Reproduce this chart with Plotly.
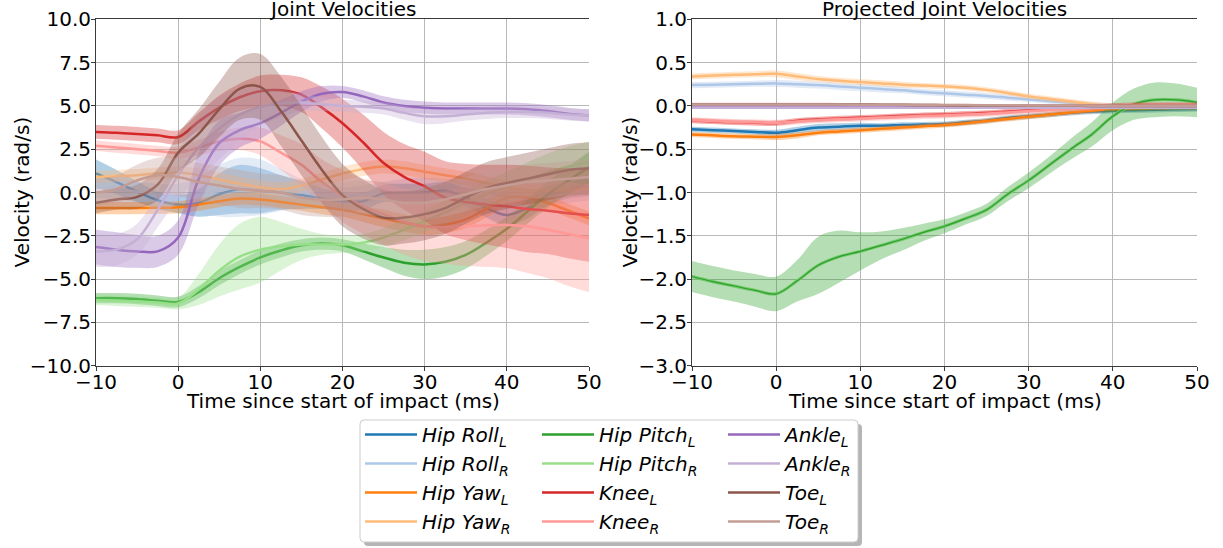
import plotly.graph_objects as go

W, H = 1223, 548

# sample times (ms since start of impact)
time_ms = [-10.0, -7.5, -5.0, -2.5, 0.0, 2.5, 5.0, 7.5, 10.0, 12.5, 15.0, 17.5, 20.0,
           22.5, 25.0, 27.5, 30.0, 32.5, 35.0, 37.5, 40.0, 42.5, 45.0, 47.5, 50.0]

# ---- joint velocities: mean and spread (rad/s) ----
hip_roll_l = [1.1, 0.6, 0.05, -0.45, -0.7, -0.6, -0.1, 0.2, 0.1, 0.0, -0.15, -0.35, -0.5,
              -0.5, -0.05, 0.0, 0.0, 0.1, -0.3, -0.9, -1.3, -0.9, -0.2, 0.15, 0.3]
hip_roll_l_sd = [0.8, 0.7, 0.6, 0.5, 0.5, 0.8, 1.2, 1.4, 1.3, 1.0, 0.8, 0.6, 0.5,
                 0.5, 0.5, 0.5, 0.5, 0.5, 0.5, 0.55, 0.6, 0.6, 0.55, 0.5, 0.5]
hip_roll_r = [0.3, 0.2, 0.05, -0.1, -0.2, -0.1, 0.1, 0.3, 0.3, 0.15, 0.0, -0.1, -0.2,
              -0.1, 0.1, 0.3, 0.35, 0.3, 0.2, 0.0, -0.2, -0.3, -0.25, -0.1, 0.05]
hip_roll_r_sd = [0.6, 0.6, 0.6, 0.6, 0.7, 1.0, 1.5, 1.7, 1.6, 1.2, 0.8, 0.6, 0.5,
                 0.5, 0.5, 0.5, 0.5, 0.5, 0.5, 0.5, 0.5, 0.5, 0.5, 0.5, 0.5]
hip_yaw_l = [-0.9, -0.9, -0.9, -0.88, -0.85, -0.7, -0.5, -0.35, -0.4, -0.55, -0.7, -0.85, -1.0,
             -1.25, -1.5, -1.75, -1.95, -1.85, -1.55, -0.95, -0.3, -0.3, -0.6, -1.05, -1.5]
hip_yaw_l_sd = [0.35, 0.35, 0.35, 0.35, 0.35, 0.35, 0.35, 0.35, 0.35, 0.35, 0.35, 0.4, 0.4,
                0.45, 0.5, 0.5, 0.5, 0.5, 0.5, 0.5, 0.45, 0.4, 0.4, 0.4, 0.4]
hip_yaw_r = [0.9, 0.95, 1.0, 1.1, 1.15, 1.0, 0.75, 0.5, 0.3, 0.2, 0.4, 0.75, 1.1,
             1.35, 1.5, 1.4, 1.2, 1.0, 0.8, 0.55, 0.3, 0.15, 0.1, 0.15, 0.25]
hip_yaw_r_sd = [0.35, 0.35, 0.35, 0.35, 0.35, 0.4, 0.4, 0.4, 0.4, 0.4, 0.4, 0.4, 0.4,
                0.4, 0.4, 0.4, 0.4, 0.4, 0.4, 0.4, 0.4, 0.4, 0.4, 0.4, 0.4]
hip_pitch_l = [-6.1, -6.1, -6.15, -6.25, -6.32, -5.75, -4.95, -4.3, -3.75, -3.35, -3.05, -2.95, -3.05,
               -3.4, -3.75, -4.05, -4.15, -4.0, -3.6, -2.9, -2.1, -1.1, -0.1, 0.7, 1.45]
hip_pitch_l_sd = [0.3, 0.3, 0.3, 0.3, 0.3, 0.35, 0.4, 0.4, 0.4, 0.4, 0.35, 0.35, 0.35,
                  0.45, 0.6, 0.75, 0.85, 0.85, 0.8, 0.75, 0.7, 0.7, 0.75, 0.8, 0.9]
hip_pitch_r = [-6.2, -6.25, -6.3, -6.35, -6.4, -5.6, -4.5, -3.7, -3.3, -3.1, -3.0, -3.0, -3.0,
               -2.9, -2.6, -2.15, -1.65, -1.15, -0.6, -0.1, 0.3, 0.75, 1.15, 1.5, 1.75]
hip_pitch_r_sd = [0.3, 0.3, 0.3, 0.3, 0.35, 0.9, 1.5, 1.9, 1.9, 1.4, 0.9, 0.6, 0.5,
                  0.5, 0.55, 0.6, 0.65, 0.7, 0.75, 0.8, 0.9, 1.0, 1.1, 1.15, 1.2]
knee_l = [3.5, 3.45, 3.38, 3.3, 3.2, 4.1, 4.9, 5.5, 5.85, 5.9, 5.65, 4.9, 4.0,
          2.9, 1.7, 0.9, 0.35, -0.3, -0.55, -0.7, -0.8, -0.95, -1.05, -1.2, -1.3]
knee_l_sd = [0.4, 0.4, 0.4, 0.4, 0.4, 0.5, 0.7, 0.8, 0.9, 0.9, 1.0, 1.2, 1.4,
             1.6, 1.8, 1.9, 2.0, 2.1, 2.2, 2.3, 2.4, 2.5, 2.5, 2.6, 2.7]
knee_r = [2.7, 2.6, 2.5, 2.4, 2.3, 2.6, 2.95, 3.1, 2.95, 2.3, 1.6, 0.6, -0.2,
          -0.8, -1.25, -1.7, -1.95, -2.0, -1.95, -1.9, -1.87, -1.95, -2.15, -2.4, -2.65]
knee_r_sd = [0.3, 0.3, 0.3, 0.3, 0.35, 0.45, 0.55, 0.65, 0.8, 1.0, 1.2, 1.3, 1.5,
             1.6, 1.8, 1.9, 2.0, 2.1, 2.3, 2.4, 2.5, 2.7, 2.8, 3.0, 3.1]
ankle_l = [-3.15, -3.3, -3.4, -3.4, -2.6, 0.8, 2.85, 3.6, 4.0, 4.6, 5.25, 5.7, 5.8,
           5.55, 5.2, 5.0, 4.9, 4.85, 4.85, 4.85, 4.85, 4.8, 4.7, 4.55, 4.45]
ankle_l_sd = [1.0, 1.0, 0.95, 0.9, 1.0, 1.5, 1.3, 1.0, 0.9, 0.75, 0.6, 0.45, 0.35,
              0.35, 0.35, 0.35, 0.35, 0.35, 0.35, 0.35, 0.35, 0.35, 0.35, 0.35, 0.35]
ankle_r = [-3.4, -3.3, -2.7, -1.0, 1.0, 2.6, 3.7, 4.5, 4.95, 5.15, 5.2, 5.1, 5.0,
           4.95, 4.85, 4.6, 4.4, 4.4, 4.5, 4.6, 4.65, 4.65, 4.6, 4.5, 4.45]
ankle_r_sd = [0.9, 0.9, 0.9, 1.0, 1.4, 1.8, 1.8, 1.5, 1.1, 0.8, 0.5, 0.4, 0.35,
              0.35, 0.35, 0.4, 0.45, 0.4, 0.35, 0.35, 0.35, 0.35, 0.35, 0.35, 0.35]
toe_l = [-0.6, -0.4, -0.25, 0.45, 2.3, 3.4, 4.8, 6.0, 6.1, 4.7, 3.0, 1.3, -0.15,
         -0.95, -1.45, -1.45, -1.25, -0.9, -0.3, 0.25, 0.55, 0.8, 1.05, 1.3, 1.4]
toe_l_sd = [0.6, 0.6, 0.7, 0.9, 1.1, 1.4, 1.6, 1.8, 1.9, 2.0, 2.0, 1.9, 1.8,
            1.7, 1.6, 1.5, 1.5, 1.5, 1.5, 1.5, 1.5, 1.5, 1.5, 1.5, 1.5]
toe_r = [0.0, 0.2, 0.7, 1.0, 0.9, 0.6, 0.4, 0.2, 0.1, 0.0, -0.3, -0.4, -0.4,
         -0.3, -0.4, -0.6, -0.6, -0.4, -0.1, 0.2, 0.4, 0.6, 0.7, 0.8, 0.9]
toe_r_sd = [0.8, 0.8, 0.9, 1.0, 1.1, 1.1, 1.1, 1.1, 1.0, 1.0, 1.0, 1.0, 1.0,
            1.0, 1.0, 1.0, 1.0, 1.0, 1.0, 1.0, 1.0, 1.0, 1.0, 1.0, 1.0]

# ---- projected joint velocities: mean and spread (rad/s) ----
p_hip_roll_l = [-0.27, -0.28, -0.29, -0.3, -0.31, -0.28, -0.25, -0.24, -0.23, -0.23, -0.22, -0.215, -0.21,
                -0.19, -0.17, -0.14, -0.12, -0.1, -0.08, -0.065, -0.055, -0.05, -0.045, -0.04, -0.035]
p_hip_roll_l_sd = [0.03, 0.03, 0.03, 0.03, 0.035, 0.04, 0.04, 0.04, 0.035, 0.03, 0.03, 0.03, 0.03,
                   0.03, 0.03, 0.03, 0.03, 0.03, 0.03, 0.03, 0.03, 0.03, 0.03, 0.03, 0.03]
p_hip_roll_r = [0.24, 0.245, 0.25, 0.255, 0.26, 0.25, 0.24, 0.225, 0.21, 0.195, 0.18, 0.16, 0.145,
                0.13, 0.115, 0.095, 0.075, 0.055, 0.035, 0.015, 0.0, -0.01, -0.015, -0.02, -0.02]
p_hip_roll_r_sd = [0.035, 0.035, 0.035, 0.035, 0.04, 0.04, 0.04, 0.04, 0.04, 0.04, 0.035, 0.035, 0.035,
                   0.035, 0.035, 0.035, 0.03, 0.03, 0.03, 0.03, 0.03, 0.03, 0.03, 0.03, 0.03]
p_hip_yaw_l = [-0.33, -0.34, -0.35, -0.355, -0.36, -0.34, -0.31, -0.295, -0.28, -0.265, -0.25, -0.235, -0.22,
               -0.2, -0.175, -0.15, -0.125, -0.1, -0.075, -0.055, -0.04, -0.03, -0.025, -0.02, -0.02]
p_hip_yaw_l_sd = [0.03, 0.03, 0.03, 0.03, 0.035, 0.035, 0.03, 0.03, 0.03, 0.03, 0.03, 0.03, 0.03,
                  0.03, 0.03, 0.03, 0.03, 0.03, 0.03, 0.03, 0.03, 0.03, 0.03, 0.03, 0.03]
p_hip_yaw_r = [0.34, 0.35, 0.36, 0.365, 0.37, 0.34, 0.31, 0.29, 0.275, 0.26, 0.245, 0.235, 0.225,
               0.21, 0.185, 0.15, 0.11, 0.08, 0.05, 0.02, 0.0, -0.01, -0.01, -0.01, -0.01]
p_hip_yaw_r_sd = [0.035, 0.035, 0.035, 0.035, 0.04, 0.04, 0.035, 0.035, 0.035, 0.035, 0.035, 0.03, 0.03,
                  0.03, 0.03, 0.03, 0.03, 0.03, 0.03, 0.03, 0.03, 0.03, 0.03, 0.03, 0.03]
p_hip_pitch_l = [-1.97, -2.03, -2.08, -2.13, -2.17, -2.02, -1.84, -1.74, -1.68, -1.61, -1.54, -1.46, -1.39,
                 -1.3, -1.2, -1.02, -0.86, -0.68, -0.5, -0.33, -0.12, 0.02, 0.07, 0.07, 0.04]
p_hip_pitch_l_sd = [0.18, 0.18, 0.18, 0.19, 0.2, 0.24, 0.33, 0.3, 0.22, 0.16, 0.13, 0.1, 0.08,
                    0.07, 0.07, 0.08, 0.09, 0.1, 0.12, 0.14, 0.16, 0.18, 0.2, 0.19, 0.17]
p_hip_pitch_r = [-1.97, -2.03, -2.08, -2.13, -2.17, -2.02, -1.84, -1.74, -1.68, -1.61, -1.54, -1.46, -1.39,
                 -1.3, -1.2, -1.02, -0.86, -0.68, -0.5, -0.33, -0.12, 0.02, 0.07, 0.07, 0.04]
p_hip_pitch_r_sd = [0.02, 0.02, 0.02, 0.02, 0.02, 0.02, 0.02, 0.02, 0.02, 0.02, 0.02, 0.02, 0.02,
                    0.02, 0.02, 0.02, 0.02, 0.02, 0.02, 0.02, 0.02, 0.02, 0.02, 0.02, 0.02]
p_knee_l = [-0.17, -0.18, -0.19, -0.195, -0.2, -0.17, -0.155, -0.145, -0.135, -0.125, -0.115, -0.105, -0.1,
            -0.09, -0.08, -0.065, -0.05, -0.035, -0.02, -0.01, 0.0, 0.01, 0.01, 0.01, 0.01]
p_knee_l_sd = [0.03, 0.03, 0.03, 0.03, 0.03, 0.03, 0.03, 0.03, 0.03, 0.03, 0.03, 0.03, 0.03,
               0.03, 0.03, 0.03, 0.03, 0.03, 0.03, 0.03, 0.03, 0.03, 0.03, 0.03, 0.03]
p_knee_r = [-0.165, -0.175, -0.185, -0.19, -0.195, -0.18, -0.165, -0.155, -0.145, -0.135, -0.125, -0.115, -0.11,
            -0.1, -0.09, -0.075, -0.06, -0.045, -0.03, -0.02, -0.01, 0.0, 0.005, 0.005, 0.005]
p_knee_r_sd = [0.035, 0.035, 0.035, 0.035, 0.035, 0.035, 0.035, 0.035, 0.035, 0.035, 0.035, 0.035, 0.035,
               0.035, 0.035, 0.035, 0.035, 0.035, 0.035, 0.035, 0.035, 0.035, 0.035, 0.035, 0.035]
p_ankle_l = [-0.01, -0.01, -0.01, -0.01, -0.01, -0.01, -0.01, -0.01, -0.01, -0.01, -0.01, -0.01, -0.01,
             -0.01, -0.01, -0.01, -0.01, -0.01, -0.01, -0.01, -0.01, -0.01, -0.01, -0.01, -0.01]
p_ankle_l_sd = [0.015, 0.015, 0.015, 0.015, 0.015, 0.015, 0.015, 0.015, 0.015, 0.015, 0.015, 0.015, 0.015,
                0.015, 0.015, 0.015, 0.015, 0.015, 0.015, 0.015, 0.015, 0.015, 0.015, 0.015, 0.015]
p_ankle_r = [-0.02, -0.02, -0.02, -0.02, -0.02, -0.02, -0.02, -0.02, -0.02, -0.02, -0.02, -0.02, -0.02,
             -0.02, -0.02, -0.02, -0.02, -0.02, -0.02, -0.02, -0.02, -0.02, -0.02, -0.02, -0.02]
p_ankle_r_sd = [0.015, 0.015, 0.015, 0.015, 0.015, 0.015, 0.015, 0.015, 0.015, 0.015, 0.015, 0.015, 0.015,
                0.015, 0.015, 0.015, 0.015, 0.015, 0.015, 0.015, 0.015, 0.015, 0.015, 0.015, 0.015]
p_toe_l = [0.02, 0.02, 0.02, 0.02, 0.02, 0.02, 0.02, 0.018, 0.016, 0.014, 0.012, 0.01, 0.008,
           0.006, 0.005, 0.004, 0.003, 0.002, 0.001, 0.0, 0.0, 0.0, 0.0, 0.0, 0.0]
p_toe_l_sd = [0.015, 0.015, 0.015, 0.015, 0.015, 0.015, 0.015, 0.015, 0.015, 0.015, 0.015, 0.015, 0.015,
              0.015, 0.015, 0.015, 0.015, 0.015, 0.015, 0.015, 0.015, 0.015, 0.015, 0.015, 0.015]
p_toe_r = [0.015, 0.015, 0.015, 0.015, 0.015, 0.015, 0.015, 0.015, 0.014, 0.013, 0.012, 0.011, 0.01,
           0.009, 0.008, 0.007, 0.006, 0.005, 0.004, 0.003, 0.002, 0.002, 0.002, 0.002, 0.002]
p_toe_r_sd = [0.015, 0.015, 0.015, 0.015, 0.015, 0.015, 0.015, 0.015, 0.015, 0.015, 0.015, 0.015, 0.015,
              0.015, 0.015, 0.015, 0.015, 0.015, 0.015, 0.015, 0.015, 0.015, 0.015, 0.015, 0.015]

joint_names = ["Hip Roll", "Hip Roll", "Hip Yaw", "Hip Yaw", "Hip Pitch", "Hip Pitch",
               "Knee", "Knee", "Ankle", "Ankle", "Toe", "Toe"]
joint_sides = ["L", "R"] * 6
joint_colors = ["#1f77b4", "#aec7e8", "#ff7f0e", "#ffbb78", "#2ca02c", "#98df8a",
                "#d62728", "#ff9896", "#9467bd", "#c5b0d5", "#8c564b", "#c49c94"]

raw_series = [
    (hip_roll_l, hip_roll_l_sd), (hip_roll_r, hip_roll_r_sd),
    (hip_yaw_l, hip_yaw_l_sd), (hip_yaw_r, hip_yaw_r_sd),
    (hip_pitch_l, hip_pitch_l_sd), (hip_pitch_r, hip_pitch_r_sd),
    (knee_l, knee_l_sd), (knee_r, knee_r_sd),
    (ankle_l, ankle_l_sd), (ankle_r, ankle_r_sd),
    (toe_l, toe_l_sd), (toe_r, toe_r_sd),
]
proj_series = [
    (p_hip_roll_l, p_hip_roll_l_sd), (p_hip_roll_r, p_hip_roll_r_sd),
    (p_hip_yaw_l, p_hip_yaw_l_sd), (p_hip_yaw_r, p_hip_yaw_r_sd),
    (p_hip_pitch_l, p_hip_pitch_l_sd), (p_hip_pitch_r, p_hip_pitch_r_sd),
    (p_knee_l, p_knee_l_sd), (p_knee_r, p_knee_r_sd),
    (p_ankle_l, p_ankle_l_sd), (p_ankle_r, p_ankle_r_sd),
    (p_toe_l, p_toe_l_sd), (p_toe_r, p_toe_r_sd),
]


def rgba(hex_color, alpha):
    h = hex_color.lstrip("#")
    r, g, b = int(h[0:2], 16), int(h[2:4], 16), int(h[4:6], 16)
    return f"rgba({r},{g},{b},{alpha})"


FONT = "DejaVu Sans"
BAND_ALPHA = 0.35
legend_ids = ["legend", "legend2", "legend3"]

fig = go.Figure()


def add_series(idx, mean, spread, xa, ya, show_legend, width):
    color = joint_colors[idx]
    lower = [m - s for m, s in zip(mean, spread)]
    upper = [m + s for m, s in zip(mean, spread)]
    common = dict(x=time_ms, xaxis=xa, yaxis=ya, hoverinfo="skip",
                  line_shape="spline")
    fig.add_trace(go.Scatter(y=lower, mode="lines", line=dict(width=0, color=color),
                             showlegend=False, **common))
    fig.add_trace(go.Scatter(y=upper, mode="lines", line=dict(width=0, color=color),
                             fill="tonexty", fillcolor=rgba(color, BAND_ALPHA),
                             showlegend=False, **common))
    label = f"<i>{joint_names[idx]}<sub>{joint_sides[idx]}</sub></i>"
    fig.add_trace(go.Scatter(x=time_ms, y=mean, xaxis=xa, yaxis=ya, mode="lines",
                             line=dict(color=color, width=width, shape="spline"),
                             name=label, showlegend=show_legend,
                             legend=legend_ids[idx // 4], legendgroup=f"g{idx}"))


for i, (m, s) in enumerate(raw_series):
    add_series(i, m, s, "x", "y", True, 2.5)

# hip pitch R sits underneath the thin hip pitch L curve in the projected panel
for i in [0, 1, 2, 3, 5, 4, 6, 7, 8, 9, 10, 11]:
    m, s = proj_series[i]
    width = 1.2 if i == 4 else (3 if i == 5 else 2.5)
    add_series(i, m, s, "x2", "y2", False, width)


def px_x(v):
    return v / W


def px_y(v):
    return 1 - v / H


axis_common = dict(
    showgrid=True, gridcolor="#b8b8b8", gridwidth=1, zeroline=False,
    showline=True, linecolor="#3a3a3a", linewidth=1,
    ticks="outside", ticklen=4, tickwidth=1, tickcolor="#3a3a3a",
    tickfont=dict(family=FONT, size=20, color="black"), automargin=False,
)
x_ticks = dict(tickvals=[-10, 0, 10, 20, 30, 40, 50], ticklabelstandoff=-6)
y_dom = [px_y(365.7), px_y(19.3)]

fig.update_layout(
    width=W, height=H, margin=dict(l=0, r=0, t=0, b=0, pad=0, autoexpand=False),
    paper_bgcolor="white", plot_bgcolor="white",
    font=dict(family=FONT, size=20, color="black"),
    xaxis=dict(domain=[px_x(96), px_x(589)], range=[-10, 50], mirror=True, anchor="y",
               **x_ticks, **axis_common),
    yaxis=dict(domain=y_dom, range=[-10, 10], tickvals=[-10, -7.5, -5, -2.5, 0, 2.5, 5, 7.5, 10],
               tickformat=".1f", ticklabelstandoff=-4, mirror=False, anchor="x", **axis_common),
    xaxis2=dict(domain=[px_x(692), px_x(1197)], range=[-10, 50], mirror=True, anchor="y2",
                **x_ticks, **axis_common),
    yaxis2=dict(domain=y_dom, range=[-3, 1], tickvals=[-3, -2.5, -2, -1.5, -1, -0.5, 0, 0.5, 1],
                tickformat=".1f", ticklabelstandoff=-4, mirror=False, anchor="x2", **axis_common),
    showlegend=True,
)

legend_common = dict(xanchor="left", yanchor="top", bgcolor="rgba(0,0,0,0)", borderwidth=0,
                     font=dict(family=FONT, size=20, color="black"), itemwidth=52,
                     tracegroupgap=0, orientation="v", itemclick=False, itemdoubleclick=False)
fig.update_layout(
    legend=dict(x=px_x(360), y=px_y(415), **legend_common),
    legend2=dict(x=px_x(537), y=px_y(415), **legend_common),
    legend3=dict(x=px_x(723), y=px_y(415), **legend_common),
)

# legend frame with drop shadow
def rounded_rect(x0, y0, x1, y1, r):
    X, Y = px_x, px_y
    return (f"M {X(x0 + r)},{Y(y0)} L {X(x1 - r)},{Y(y0)} Q {X(x1)},{Y(y0)} {X(x1)},{Y(y0 + r)} "
            f"L {X(x1)},{Y(y1 - r)} Q {X(x1)},{Y(y1)} {X(x1 - r)},{Y(y1)} "
            f"L {X(x0 + r)},{Y(y1)} Q {X(x0)},{Y(y1)} {X(x0)},{Y(y1 - r)} "
            f"L {X(x0)},{Y(y0 + r)} Q {X(x0)},{Y(y0)} {X(x0 + r)},{Y(y0)} Z")


fig.add_shape(type="path", xref="paper", yref="paper", path=rounded_rect(364, 424, 862, 546, 4),
              fillcolor="rgba(120,120,120,0.55)", line=dict(width=0))
fig.add_shape(type="path", xref="paper", yref="paper", path=rounded_rect(360, 420, 858, 542, 4),
              fillcolor="white", line=dict(color="#cccccc", width=1))

annotations = [
    dict(text="Joint Velocities", x=px_x(342.5), y=px_y(9)),
    dict(text="Projected Joint Velocities", x=px_x(944.5), y=px_y(9)),
    dict(text="Time since start of impact (ms)", x=px_x(342.5), y=px_y(401)),
    dict(text="Time since start of impact (ms)", x=px_x(944.5), y=px_y(401)),
    dict(text="Velocity (rad/s)", x=px_x(21), y=px_y(192.5), textangle=-90),
    dict(text="Velocity (rad/s)", x=px_x(629), y=px_y(192.5), textangle=-90),
]
for a in annotations:
    fig.add_annotation(xref="paper", yref="paper", xanchor="center", yanchor="middle",
                       showarrow=False, font=dict(family=FONT, size=20, color="black"), **a)

fig.write_html("out.html")
